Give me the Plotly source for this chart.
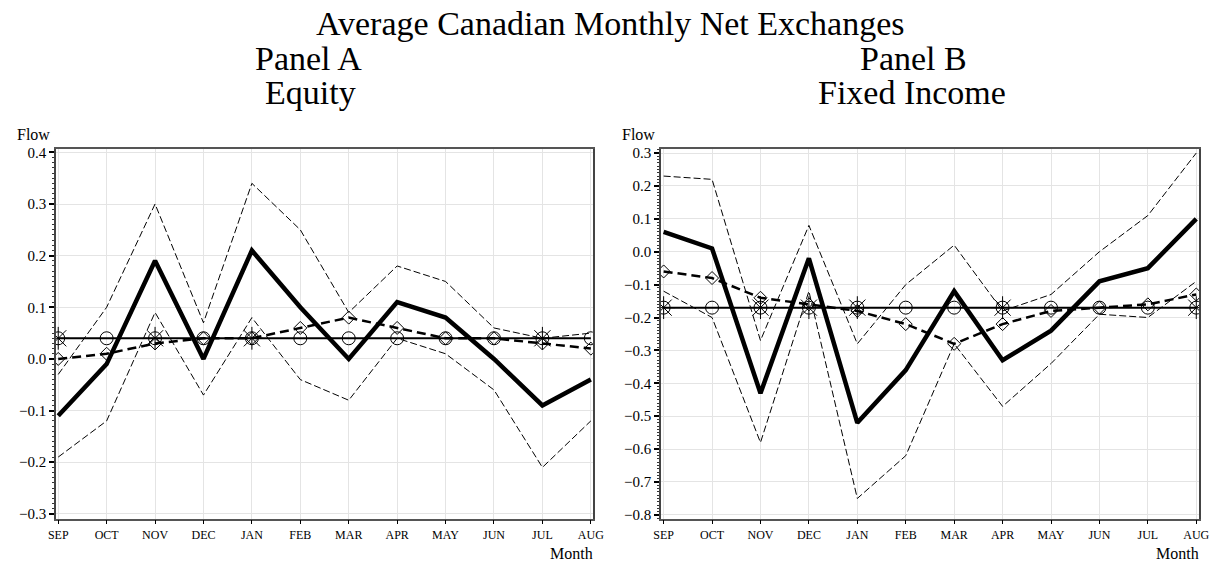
import plotly.graph_objects as go

months = ["SEP", "OCT", "NOV", "DEC", "JAN", "FEB", "MAR", "APR", "MAY", "JUN", "JUL", "AUG"]

# Panel A - Equity
eq_mean = [-0.11, -0.01, 0.19, 0.00, 0.21, 0.10, 0.00, 0.11, 0.08, 0.00, -0.09, -0.04]
eq_upper = [-0.03, 0.10, 0.30, 0.07, 0.34, 0.25, 0.09, 0.18, 0.15, 0.06, 0.04, 0.05]
eq_lower = [-0.19, -0.12, 0.09, -0.07, 0.08, -0.04, -0.08, 0.04, 0.01, -0.06, -0.21, -0.12]
eq_model = [0.00, 0.01, 0.03, 0.04, 0.04, 0.06, 0.08, 0.06, 0.04, 0.04, 0.03, 0.02]
eq_overall = 0.04
eq_star_months = ["SEP", "NOV", "JAN", "JUL"]

# Panel B - Fixed Income
fi_mean = [0.06, 0.01, -0.43, -0.02, -0.52, -0.36, -0.12, -0.33, -0.24, -0.09, -0.05, 0.10]
fi_upper = [0.23, 0.22, -0.27, 0.08, -0.28, -0.10, 0.02, -0.18, -0.13, 0.00, 0.11, 0.30]
fi_lower = [-0.12, -0.20, -0.58, -0.12, -0.75, -0.62, -0.28, -0.47, -0.34, -0.19, -0.20, -0.09]
fi_model = [-0.06, -0.08, -0.14, -0.16, -0.18, -0.22, -0.28, -0.22, -0.18, -0.17, -0.16, -0.13]
fi_overall = -0.17
fi_star_months = ["SEP", "NOV", "DEC", "JAN", "APR", "AUG"]

eq_ticks = [-0.3, -0.2, -0.1, 0.0, 0.1, 0.2, 0.3, 0.4]
fi_ticks = [-0.8, -0.7, -0.6, -0.5, -0.4, -0.3, -0.2, -0.1, 0.0, 0.1, 0.2, 0.3]

W, H = 1221, 569
SERIF = "Liberation Serif"

idx = list(range(len(months)))

fig = go.Figure()


def add_panel(fig, xa, ya, mean, upper, lower, model, overall, star_months):
    for band in (upper, lower):
        fig.add_trace(go.Scatter(x=idx, y=band, mode="lines", xaxis=xa, yaxis=ya,
                                 line=dict(color="black", width=1, dash="7px,3px"),
                                 showlegend=False, hoverinfo="skip"))
    fig.add_trace(go.Scatter(x=idx, y=mean, mode="lines", xaxis=xa, yaxis=ya,
                             line=dict(color="black", width=4.5),
                             showlegend=False))
    fig.add_trace(go.Scatter(x=idx, y=[overall] * len(idx), mode="lines+markers",
                             xaxis=xa, yaxis=ya,
                             line=dict(color="black", width=2),
                             marker=dict(symbol="circle-open", size=13, color="black",
                                         line=dict(width=1)),
                             showlegend=False))
    sx = [months.index(m) for m in star_months]
    fig.add_trace(go.Scatter(x=sx, y=[overall] * len(sx), mode="markers",
                             xaxis=xa, yaxis=ya,
                             marker=dict(symbol="asterisk-open", size=19, color="black",
                                         line=dict(width=1, color="black")),
                             showlegend=False))
    fig.add_trace(go.Scatter(x=idx, y=model, mode="lines+markers", xaxis=xa, yaxis=ya,
                             line=dict(color="black", width=2.5, dash="9px,5px"),
                             marker=dict(symbol="diamond-open", size=10, color="black",
                                         line=dict(width=1)),
                             showlegend=False))


add_panel(fig, "x", "y", eq_mean, eq_upper, eq_lower, eq_model, eq_overall, eq_star_months)
add_panel(fig, "x2", "y2", fi_mean, fi_upper, fi_lower, fi_model, fi_overall, fi_star_months)

ydom = [1 - 522.7 / H, 1 - 147 / H]

xcommon = dict(tickmode="array", tickvals=idx, ticktext=months,
               showgrid=True, gridcolor="#e4e4e4", gridwidth=1,
               zeroline=False, showline=True, mirror=True, linecolor="#555", linewidth=1.5,
               ticks="outside", ticklen=4, tickwidth=1, tickcolor="black",
               tickfont=dict(family=SERIF, size=12, color="black"))


def yaxis_common(ticks):
    return dict(tickmode="array", tickvals=ticks, tickformat=".1f",
                showgrid=True, gridcolor="#e4e4e4", gridwidth=1,
                zeroline=False, showline=True, mirror=True, linecolor="#444", linewidth=1.5,
                ticks="outside", ticklen=5, tickwidth=1.5, tickcolor="black",
                tickfont=dict(family=SERIF, size=15, color="black"),
                minor=dict(dtick=0.01, ticks="outside", ticklen=2, tickcolor="#333",
                           tickwidth=1, showgrid=False),
                domain=ydom)


xa1 = dict(xcommon)
xa1.update(domain=[48.7 / W, 594 / W], range=[-0.047, 11.04], anchor="y")
xa2 = dict(xcommon)
xa2.update(domain=[663.3 / W, 1210 / W], range=[-0.055, 11.06], anchor="y2")
ya1 = yaxis_common(eq_ticks)
ya1.update(range=[-0.309, 0.4057], anchor="x")
ya2 = yaxis_common(fi_ticks)
ya2.update(range=[-0.811, 0.311], anchor="x2")

fig.update_layout(xaxis=xa1, yaxis=ya1, xaxis2=xa2, yaxis2=ya2)


def ann(text, xpx, ypx, size, xanchor="center", yanchor="middle"):
    fig.add_annotation(text=text, x=xpx / W, y=1 - ypx / H, xref="paper", yref="paper",
                       showarrow=False, xanchor=xanchor, yanchor=yanchor,
                       font=dict(family=SERIF, size=size, color="black"))


ann("Average Canadian Monthly Net Exchanges", 612, 19, 34)
ann("Panel A", 305, 54, 34)
ann("Equity", 307, 89, 34)
ann("Panel B", 920, 54, 34)
ann("Fixed Income", 918, 89, 34)
ann("Flow", 7, 132, 16, "left")
ann("Flow", 622, 132, 16, "left")
ann("Month", 596, 569, 16, "right", "bottom")
ann("Month", 1212, 569, 16, "right", "bottom")

fig.update_layout(width=W, height=H, margin=dict(l=0, r=0, t=0, b=0),
                  paper_bgcolor="white", plot_bgcolor="white", showlegend=False)

fig.write_html("out.html", config={"displayModeBar": False},
               post_script="document.body.style.margin='0';document.body.style.overflow='hidden';")
